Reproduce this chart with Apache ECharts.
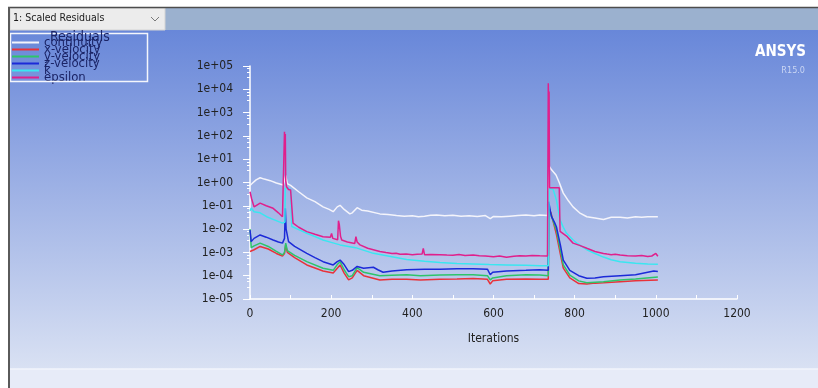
<!DOCTYPE html>
<html>
<head>
<meta charset="utf-8">
<script src="https://cdn.jsdelivr.net/npm/echarts@6/dist/echarts.min.js"></script>
<style>
html,body{margin:0;padding:0;background:#fff;}
#chart{width:818px;height:388px;}
</style>
</head>
<body>
<div id="chart"></div>
<script>
// ---- data ----
var seriesNames = ['continuity', 'x-velocity', 'y-velocity', 'z-velocity', 'k', 'epsilon'];
var xTicks = [0, 200, 400, 600, 800, 1000, 1200];
var yTickLabels = ['1e-05','1e-04','1e-03','1e-02','1e-01','1e+00','1e+01','1e+02','1e+03','1e+04','1e+05'];

var continuity = [[0,0.75],[5,0.9],[15,1.3],[25,1.6],[35,1.4],[50,1.2],[65,0.95],[82,0.78],[86,0.9],[88,2.0],[92,0.9],[100,0.75],[120,0.4],[140,0.22],[160,0.15],[180,0.09],[195,0.07],[205,0.056],[215,0.09],[222,0.105],[232,0.07],[246,0.045],[252,0.05],[264,0.083],[275,0.065],[290,0.06],[320,0.045],[340,0.042],[361,0.038],[380,0.036],[400,0.037],[415,0.034],[430,0.036],[445,0.039],[460,0.04],[480,0.037],[500,0.039],[520,0.036],[540,0.037],[560,0.035],[580,0.038],[592,0.028],[600,0.035],[620,0.034],[640,0.036],[660,0.038],[680,0.04],[700,0.037],[714,0.04],[733,0.038],[735,0.8],[738,4.8],[743,3.5],[747,4.0],[754,2.1],[762,1.0],[772,0.35],[785,0.16],[796,0.09],[812,0.05],[830,0.034],[850,0.03],[871,0.026],[890,0.032],[912,0.032],[930,0.03],[950,0.034],[965,0.032],[980,0.034],[1005,0.034]];

var xVelocity = [[0,0.0011],[10,0.0013],[25,0.0018],[45,0.0014],[65,0.0009],[80,0.0007],[85,0.0009],[88,0.0021],[92,0.001],[110,0.0006],[140,0.00029],[180,0.00016],[205,0.00013],[222,0.00029],[232,0.00013],[243,0.000066],[252,0.00008],[264,0.00017],[280,0.0001],[320,0.000066],[350,0.00007],[386,0.00007],[420,0.000066],[468,0.00007],[510,0.000072],[550,0.000075],[585,0.00007],[592,0.000044],[598,0.00006],[632,0.00007],[680,0.000072],[714,0.00007],[735,0.00007],[736,0.078],[742,0.047],[755,0.006],[765,0.0008],[772,0.00021],[788,0.00008],[810,0.000046],[830,0.000044],[850,0.000048],[871,0.00005],[912,0.000055],[950,0.00006],[1005,0.000066]];

var yVelocity = [[0,0.01],[3,0.0016],[10,0.0019],[25,0.0025],[45,0.0018],[65,0.0011],[80,0.00078],[85,0.001],[88,0.0025],[92,0.0012],[110,0.00075],[140,0.0004],[180,0.00021],[205,0.00017],[215,0.0003],[222,0.0004],[232,0.00018],[243,0.000091],[252,0.0001],[264,0.00022],[280,0.00014],[320,0.0001],[350,0.000105],[386,0.00011],[420,0.0001],[468,0.000107],[510,0.00011],[550,0.00011],[585,0.0001],[592,0.000066],[598,0.00008],[632,0.0001],[680,0.00011],[714,0.000107],[735,0.0001],[736,0.09],[740,0.05],[755,0.009],[765,0.0012],[772,0.00029],[788,0.000107],[810,0.00006],[830,0.00005],[871,0.000055],[912,0.000066],[950,0.000072],[1005,0.000087]];

var zVelocity = [[0,0.009],[3,0.0029],[10,0.004],[25,0.0056],[40,0.0045],[57,0.0034],[70,0.0028],[80,0.0025],[85,0.004],[87,0.078],[89,0.01],[95,0.0029],[110,0.0018],[140,0.00091],[160,0.0006],[180,0.0004],[205,0.00029],[215,0.0004],[222,0.00047],[232,0.0003],[243,0.00015],[252,0.00017],[264,0.00025],[280,0.00021],[304,0.00023],[315,0.00018],[328,0.00014],[350,0.00016],[386,0.00018],[430,0.00019],[468,0.00019],[510,0.0002],[550,0.0002],[585,0.00019],[592,0.00011],[598,0.00014],[632,0.00016],[680,0.00017],[714,0.00018],[735,0.00017],[736,0.15],[740,0.06],[743,0.034],[750,0.02],[755,0.0126],[765,0.002],[772,0.00047],[788,0.00017],[810,0.0001],[830,0.000078],[850,0.00008],[871,0.00009],[912,0.0001],[950,0.00011],[995,0.00016],[1005,0.00015]];

var kSeries = [[0,0.06],[3,0.08],[10,0.056],[25,0.05],[41,0.034],[60,0.025],[80,0.018],[86,0.02],[87,0.56],[95,0.56],[100,0.5],[103,0.013],[120,0.0095],[140,0.0066],[160,0.0048],[180,0.0034],[200,0.0027],[222,0.0021],[260,0.0016],[304,0.00091],[340,0.0007],[386,0.0005],[430,0.00042],[468,0.00037],[510,0.00033],[550,0.00032],[590,0.0003],[632,0.00029],[680,0.00028],[714,0.00027],[735,0.00027],[737,0.56],[747,0.5],[755,0.18],[764,0.025],[772,0.012],[780,0.0066],[795,0.0036],[805,0.0025],[830,0.0013],[850,0.0009],[871,0.00063],[890,0.00048],[912,0.0004],[950,0.00034],[980,0.00032],[1005,0.00031]];

var epsilon = [[0,0.4],[4,0.2],[10,0.09],[18,0.11],[25,0.13],[40,0.1],[57,0.078],[70,0.05],[80,0.034],[84,0.04],[85,150],[86,15],[87,120],[88,1.2],[90,0.66],[95,0.5],[100,0.48],[104,0.45],[106,0.018],[120,0.012],[140,0.0078],[160,0.006],[180,0.0047],[198,0.0045],[201,0.0065],[204,0.004],[216,0.0035],[218,0.023],[220,0.016],[223,0.005],[226,0.0034],[240,0.0028],[258,0.0024],[261,0.0047],[264,0.0028],[271,0.0021],[290,0.0015],[320,0.0011],[335,0.00098],[350,0.0009],[360,0.00092],[370,0.00083],[385,0.00086],[400,0.0008],[412,0.00083],[424,0.00085],[427,0.0015],[430,0.0008],[445,0.00082],[468,0.0008],[485,0.00077],[500,0.00075],[515,0.00081],[530,0.00074],[550,0.00078],[565,0.00072],[580,0.0007],[600,0.00065],[615,0.0007],[632,0.00062],[650,0.00068],[665,0.00072],[680,0.0007],[695,0.00074],[714,0.00071],[733,0.0007],[735,18000],[736,2000],[737,8000],[738,0.6],[750,0.6],[762,0.6],[764,0.008],[780,0.005],[796,0.0025],[812,0.002],[830,0.0015],[850,0.0011],[871,0.0009],[880,0.00085],[890,0.0008],[900,0.00084],[912,0.00078],[930,0.00072],[950,0.0007],[965,0.00074],[980,0.00066],[990,0.0007],[1000,0.0009],[1005,0.00068]];

var seriesData = [continuity, xVelocity, yVelocity, zVelocity, kSeries, epsilon];
var seriesColors = ['#f4f4fb', '#e8323a', '#2ec46a', '#1c2ad8', '#3ae6f0', '#e0208c'];

// ---- chart ----
var FONT = "'Liberation Sans Narrow', 'DejaVu Sans Condensed', 'Liberation Sans', sans-serif";
var chart = echarts.init(document.getElementById('chart'), null, {renderer: 'canvas'});

var series = seriesNames.map(function (n, i) {
  return {
    name: n, type: 'line', data: seriesData[i], showSymbol: false, symbol: 'none',
    lineStyle: {color: seriesColors[i], width: 1.5}, itemStyle: {color: seriesColors[i]},
    animation: false, z: 3 + i
  };
});

chart.setOption({
  backgroundColor: '#ffffff',
  animation: false,
  grid: {left: 250, right: 81, top: 66, bottom: 89, containLabel: false},
  legend: {
    orient: 'vertical', left: 12, top: 36, padding: 0, itemWidth: 27, itemHeight: 2, itemGap: -6,
    icon: 'rect', selectedMode: false,
    data: seriesNames,
    textStyle: {fontFamily: FONT, fontSize: 13, color: '#1b2466'}
  },
  xAxis: {
    type: 'value', min: 0, max: 1200, interval: 200,
    name: 'Iterations', nameLocation: 'middle', nameGap: 34,
    nameTextStyle: {fontFamily: FONT, fontSize: 12, color: '#222'},
    axisLine: {lineStyle: {color: '#ffffff', width: 1.5}},
    axisTick: {show: true, inside: true, length: 4, lineStyle: {color: '#ffffff'}},
    minorTick: {show: true, splitNumber: 2, length: 4, lineStyle: {color: '#ffffff'}},
    splitLine: {show: false},
    axisLabel: {fontFamily: FONT, fontSize: 12, color: '#222', margin: 9,
      formatter: function (v) { return xTicks.indexOf(v) >= 0 ? String(v) : ''; }}
  },
  yAxis: {
    type: 'log', logBase: 10, min: 1e-5, max: 1e5, interval: 1,
    axisLine: {show: true, lineStyle: {color: '#ffffff', width: 1.5}},
    axisTick: {show: true, inside: false, length: 7, lineStyle: {color: '#ffffff'}},
    minorTick: {show: true, splitNumber: 4, length: 3, lineStyle: {color: '#ffffff'}},
    splitLine: {show: false},
    axisLabel: {fontFamily: FONT, fontSize: 12, color: '#222', margin: 17,
      formatter: function (v) {
        var e = Math.round(Math.log(v) / Math.LN10);
        return yTickLabels[e + 5] || '';
      }}
  },
  graphic: [
    // plot background gradient
    {type: 'rect', z: -100, silent: true, shape: {x: 9, y: 30, width: 809, height: 339},
      style: {fill: new echarts.graphic.LinearGradient(0, 0, 0, 1, [
        {offset: 0, color: '#6887d9'}, {offset: 0.5, color: '#a1b4e6'}, {offset: 1, color: '#d9e1f3'}])}},
    {type: 'rect', z: -100, silent: true, shape: {x: 9, y: 369, width: 809, height: 19},
      style: {fill: '#e7ebf8'}},
    {type: 'line', z: -99, silent: true, shape: {x1: 9, y1: 369, x2: 818, y2: 369},
      style: {stroke: '#f2f5fd', lineWidth: 1.5}},
    // toolbar
    {type: 'rect', z: -100, silent: true, shape: {x: 9, y: 8, width: 809, height: 22},
      style: {fill: '#9bb1cf'}},
    {type: 'rect', z: -99, silent: true, shape: {x: 10, y: 8, width: 155, height: 22},
      style: {fill: '#ececec', stroke: '#d4d4d4', lineWidth: 1}},
    {type: 'text', z: 10, silent: true, left: 13, top: 13,
      style: {text: '1: Scaled Residuals', font: '10.5px ' + FONT, fill: '#1a1a1a'}},
    {type: 'polyline', z: 10, silent: true, shape: {points: [[151, 17], [155, 21], [159, 17]]},
      style: {stroke: '#7a7a7a', lineWidth: 1, fill: null}},
    // frame lines
    {type: 'line', z: 20, silent: true, shape: {x1: 8, y1: 7.5, x2: 818, y2: 7.5},
      style: {stroke: '#4d4d4d', lineWidth: 1.5}},
    {type: 'line', z: 20, silent: true, shape: {x1: 9, y1: 7, x2: 9, y2: 388},
      style: {stroke: '#5a5a5a', lineWidth: 2}},
    // legend box
    {type: 'rect', z: 5, silent: true, shape: {x: 10.5, y: 33.5, width: 137, height: 48},
      style: {fill: null, stroke: '#f4f6fc', lineWidth: 1.5}},
    {type: 'text', z: 6, silent: true, left: 50, top: 30,
      style: {text: 'Residuals', font: '14px ' + FONT, fill: '#1b2466'}},
    // ANSYS logo
    {type: 'text', z: 6, silent: true, right: 12, top: 45,
      style: {text: 'ANSYS', font: 'bold 15px ' + FONT, fill: '#ffffff'}},
    {type: 'text', z: 6, silent: true, right: 13, top: 66,
      style: {text: 'R15.0', font: '9px ' + FONT, fill: '#c9d5f3'}}
  ],
  series: series
});
</script>
</body>
</html>
